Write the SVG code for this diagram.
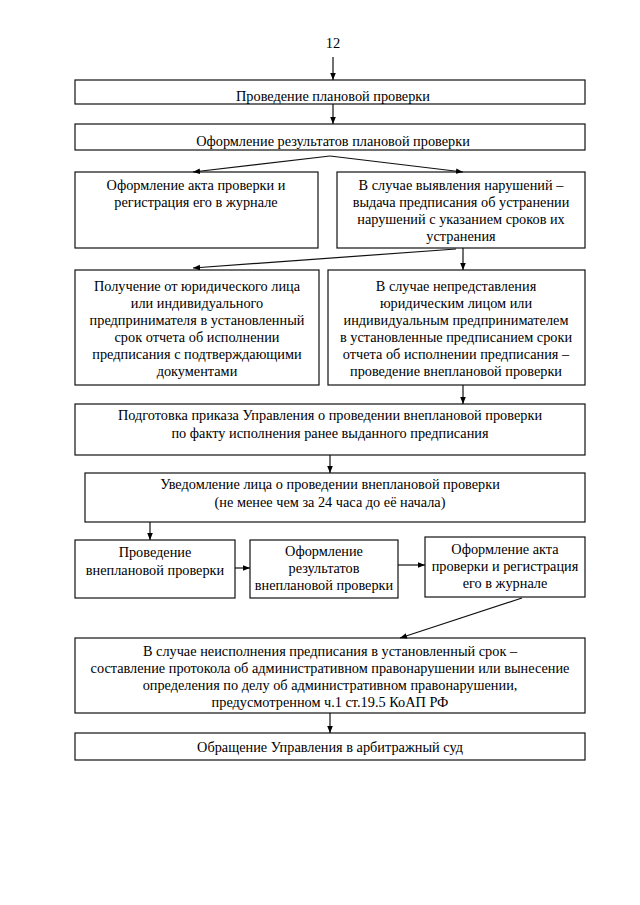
<svg xmlns="http://www.w3.org/2000/svg" width="640" height="905" viewBox="0 0 640 905">
<defs>
<marker id="ah" viewBox="0 0 10 10" refX="10" refY="5" markerWidth="7" markerHeight="7" markerUnits="userSpaceOnUse" orient="auto">
<path d="M0,1 L10,5 L0,9 z" fill="#000"/>
</marker>
<style>
.box{fill:#fff;stroke:#111;stroke-width:1.2}
.t{font-family:"Liberation Serif","Times New Roman",serif;font-size:14.3px;fill:#000;text-anchor:middle}
.c{fill:none;stroke:#111;stroke-width:1.2;marker-end:url(#ah)}
</style>
</defs>
<rect width="640" height="905" fill="#fff"/>
<text class="t" x="333" y="48" style="font-size:14.5px">12</text>

<g id="n1"><rect class="box" x="75" y="80" width="510" height="24"/><text class="t" x="333" y="101">Проведение плановой проверки</text></g>
<g id="n2"><rect class="box" x="75" y="124" width="510" height="26"/><text class="t" x="333" y="146">Оформление результатов плановой проверки</text></g>
<g id="n3"><rect class="box" x="75" y="172" width="243" height="76"/><text class="t" x="196" y="190">Оформление акта проверки и</text><text class="t" x="196" y="207">регистрация его в журнале</text></g>
<g id="n4"><rect class="box" x="337" y="172" width="248" height="76"/><text class="t" x="461" y="190">В случае выявления нарушений –</text><text class="t" x="461" y="207">выдача предписания об устранении</text><text class="t" x="461" y="224">нарушений с указанием сроков их</text><text class="t" x="461" y="241">устранения</text></g>
<g id="n5"><rect class="box" x="75" y="270" width="244" height="115"/><text class="t" x="197" y="291">Получение от юридического лица</text><text class="t" x="197" y="308">или индивидуального</text><text class="t" x="197" y="325">предпринимателя в установленный</text><text class="t" x="197" y="342">срок отчета об исполнении</text><text class="t" x="197" y="359">предписания с подтверждающими</text><text class="t" x="197" y="376">документами</text></g>
<g id="n6"><rect class="box" x="328" y="270" width="257" height="115"/><text class="t" x="456" y="291">В случае непредставления</text><text class="t" x="456" y="308">юридическим лицом или</text><text class="t" x="456" y="325">индивидуальным предпринимателем</text><text class="t" x="456" y="342">в установленные предписанием сроки</text><text class="t" x="456" y="359">отчета об исполнении предписания –</text><text class="t" x="456" y="376">проведение внеплановой проверки</text></g>
<g id="n7"><rect class="box" x="75" y="404" width="510" height="51"/><text class="t" x="330" y="420">Подготовка приказа Управления о проведении внеплановой проверки</text><text class="t" x="330" y="438">по факту исполнения ранее выданного предписания</text></g>
<g id="n8"><rect class="box" x="85" y="473" width="500" height="49"/><text class="t" x="330" y="489">Уведомление лица о проведении внеплановой проверки</text><text class="t" x="330" y="507">(не менее чем за 24 часа до её начала)</text></g>
<g id="n9"><rect class="box" x="75" y="540" width="160" height="58"/><text class="t" x="155" y="557">Проведение</text><text class="t" x="155" y="575">внеплановой проверки</text></g>
<g id="n10"><rect class="box" x="250" y="540" width="148" height="58"/><text class="t" x="324" y="556">Оформление</text><text class="t" x="324" y="573">результатов</text><text class="t" x="324" y="590">внеплановой проверки</text></g>
<g id="n11"><rect class="box" x="425" y="537" width="160" height="60"/><text class="t" x="505" y="554">Оформление акта</text><text class="t" x="505" y="571">проверки и регистрация</text><text class="t" x="505" y="588">его в журнале</text></g>
<g id="n12"><rect class="box" x="75" y="638" width="510" height="75"/><text class="t" x="330" y="656">В случае неисполнения предписания в установленный срок –</text><text class="t" x="330" y="673">составление протокола об административном правонарушении или вынесение</text><text class="t" x="330" y="690">определения по делу об административном правонарушении,</text><text class="t" x="330" y="707">предусмотренном ч.1 ст.19.5 КоАП РФ</text></g>
<g id="n13"><rect class="box" x="75" y="733" width="510" height="27"/><text class="t" x="330" y="752">Обращение Управления в арбитражный суд</text></g>

<g id="connectors">
<line class="c" x1="333" y1="57" x2="333" y2="80"/>
<line class="c" x1="333" y1="104" x2="333" y2="124"/>
<polyline class="c" points="330,156 193,172"/>
<polyline class="c" points="330,156 463,172"/>
<line class="c" x1="456" y1="249" x2="193" y2="268"/>
<line class="c" x1="463" y1="248" x2="463" y2="270"/>
<line class="c" x1="463" y1="385" x2="463" y2="404"/>
<line class="c" x1="330" y1="455" x2="330" y2="473"/>
<line class="c" x1="150" y1="522" x2="150" y2="540"/>
<line class="c" x1="235" y1="568" x2="250" y2="568"/>
<line class="c" x1="398" y1="565" x2="425" y2="565"/>
<line class="c" x1="522" y1="598" x2="400" y2="638"/>
<line class="c" x1="330" y1="713" x2="330" y2="733"/>
</g>
</svg>
